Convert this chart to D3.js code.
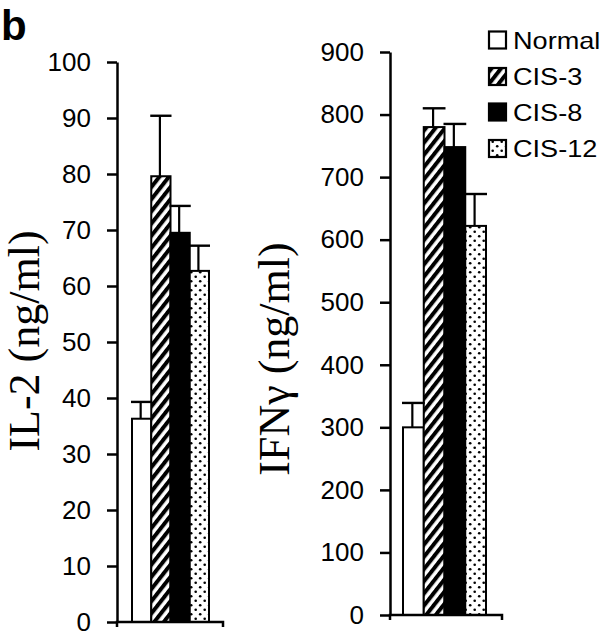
<!DOCTYPE html>
<html>
<head>
<meta charset="utf-8">
<script src="https://cdn.jsdelivr.net/npm/d3@7/dist/d3.min.js"></script>
<style>
  html, body { margin: 0; padding: 0; background: #fff; }
  svg { display: block; }
</style>
</head>
<body>
<svg id="chart" width="606" height="639"></svg>
<script>
// ---- data ----
const groups = ["Normal", "CIS-3", "CIS-8", "CIS-12"];
const il2Means = [36.3, 79.6, 69.5, 62.7];
const il2Upper = [39.3, 90.4, 74.3, 67.2];
const ifnMeans = [300, 780, 748, 622];
const ifnUpper = [339, 810, 785, 673];
const il2Ticks = [0, 10, 20, 30, 40, 50, 60, 70, 80, 90, 100];
const ifnTicks = [0, 100, 200, 300, 400, 500, 600, 700, 800, 900];
const fills = ["#fff", "url(#hatch)", "#000", "url(#dots)"];

const svg = d3.select("#chart");
const sans = "'Liberation Sans', Arial, Helvetica, sans-serif";
const serif = "'Liberation Serif', 'Times New Roman', serif";

// patterns
const defs = svg.append("defs");
const hatch = defs.append("pattern").attr("id", "hatch")
  .attr("patternUnits", "userSpaceOnUse").attr("width", 7.5).attr("height", 7.5)
  .attr("patternTransform", "rotate(38)");
hatch.append("rect").attr("width", 7.5).attr("height", 7.5).attr("fill", "#fff");
hatch.append("rect").attr("width", 4).attr("height", 7.5).attr("fill", "#000");
const dots = defs.append("pattern").attr("id", "dots")
  .attr("patternUnits", "userSpaceOnUse").attr("width", 9).attr("height", 9);
dots.append("rect").attr("width", 9).attr("height", 9).attr("fill", "#fff");
dots.append("circle").attr("cx", 2.2).attr("cy", 2.2).attr("r", 1.3).attr("fill", "#000");
dots.append("circle").attr("cx", 6.7).attr("cy", 6.7).attr("r", 1.3).attr("fill", "#000");

// panel letter
svg.append("text").attr("x", 1).attr("y", 40)
  .attr("font-family", sans).attr("font-weight", "bold").attr("font-size", 42)
  .text("b");

function panel(cfg) {
  const y = d3.scaleLinear().domain(cfg.domain).range([cfg.y0, cfg.y1]);
  const x = d3.scaleBand().domain(groups).range([cfg.bx0, cfg.bx1]).padding(0);
  const g = svg.append("g");

  // bars
  g.selectAll("rect.bar").data(groups).join("rect")
    .attr("class", "bar")
    .attr("x", d => x(d))
    .attr("y", (d, i) => y(cfg.means[i]))
    .attr("width", x.bandwidth())
    .attr("height", (d, i) => y(0) - y(cfg.means[i]))
    .attr("fill", (d, i) => fills[i])
    .attr("stroke", "#000").attr("stroke-width", 2);

  // error bars (upper only)
  groups.forEach((d, i) => {
    const cx = x(d) + x.bandwidth() * 0.45;
    g.append("line").attr("x1", cx).attr("x2", cx)
      .attr("y1", y(cfg.means[i])).attr("y2", y(cfg.upper[i]))
      .attr("stroke", "#000").attr("stroke-width", 2.2);
    g.append("line").attr("x1", x(d) - 1).attr("x2", x(d) + x.bandwidth() + 1)
      .attr("y1", y(cfg.upper[i])).attr("y2", y(cfg.upper[i]))
      .attr("stroke", "#000").attr("stroke-width", 2.4);
  });

  // y axis
  const ax = g.append("g").attr("transform", `translate(${cfg.ax},0)`)
    .call(d3.axisLeft(y).tickValues(cfg.ticks).tickSize(10).tickSizeOuter(0).tickPadding(16));
  ax.select(".domain").attr("stroke-width", 2.5);
  ax.selectAll(".tick line").attr("stroke-width", 2.5);
  ax.selectAll(".tick text").attr("font-family", sans).attr("font-size", 26).attr("fill", "#000");

  // x axis baseline
  g.append("path")
    .attr("d", `M${cfg.ax},${y(0) + 5}V${y(0)}H${cfg.axEnd}V${y(0) + 5}`)
    .attr("fill", "none").attr("stroke", "#000").attr("stroke-width", 2.5);

  // title
  g.append("text")
    .attr("transform", `translate(${cfg.tx},${cfg.ty}) rotate(-90)`)
    .attr("text-anchor", "middle")
    .attr("font-family", serif).attr("font-size", 44)
    .text(cfg.title);
}

panel({ domain: [0, 100], y0: 622, y1: 62, bx0: 132, bx1: 209, ax: 117, axEnd: 223,
        means: il2Means, upper: il2Upper, ticks: il2Ticks,
        title: "IL-2 (ng/ml)", tx: 39, ty: 341 });
panel({ domain: [0, 900], y0: 615, y1: 52, bx0: 403, bx1: 486, ax: 390, axEnd: 502,
        means: ifnMeans, upper: ifnUpper, ticks: ifnTicks,
        title: "IFNγ (ng/ml)", tx: 289, ty: 359 });

// legend
const legY = [40, 76.5, 112, 148.5];
const leg = svg.append("g");
groups.forEach((d, i) => {
  leg.append("rect").attr("x", 489).attr("y", legY[i] - 8.5)
    .attr("width", 17).attr("height", 17)
    .attr("fill", fills[i]).attr("stroke", "#000").attr("stroke-width", 2.2);
  leg.append("text")
    .attr("transform", `translate(513,${legY[i] + 8.5}) scale(1.13,1)`)
    .attr("font-family", sans).attr("font-size", 24)
    .text(d);
});
</script>
</body>
</html>
